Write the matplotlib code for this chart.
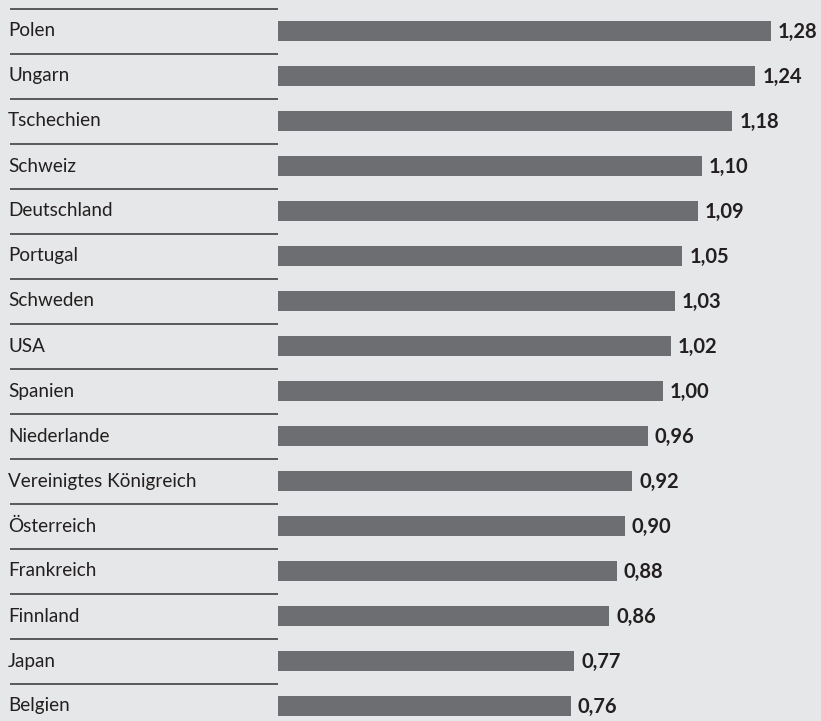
import matplotlib
matplotlib.use("Agg")
import matplotlib.pyplot as plt

countries = ["Polen", "Ungarn", "Tschechien", "Schweiz", "Deutschland", "Portugal",
             "Schweden", "USA", "Spanien", "Niederlande", "Vereinigtes Königreich",
             "Österreich", "Frankreich", "Finnland", "Japan", "Belgien"]
values = [1.28, 1.24, 1.18, 1.10, 1.09, 1.05, 1.03, 1.02, 1.00, 0.96, 0.92,
          0.90, 0.88, 0.86, 0.77, 0.76]

BG = "#e6e7e8"
BAR = "#6d6e71"
TXT = "#231f20"

plt.rcParams["font.family"] = ["Lato", "DejaVu Sans"]

fig = plt.figure(figsize=(8.21, 7.21), dpi=100, facecolor=BG)
ax = fig.add_axes([0, 0, 1, 1], facecolor=BG)

# 385 px per unit, zero at x=278 px; rows 45 px apart, first centred at y=31 px
px = 385.0
ax.set_xlim(-278 / px, (821 - 278) / px)
ax.set_ylim((721 - 31) / 45, -31 / 45)

ypos = list(range(len(countries)))
ax.barh(ypos, values, height=0.44, color=BAR, zorder=2)

# separator lines left of the bars
ax.hlines([y - 0.5 for y in ypos], -268 / px, 0, color="#58595b", linewidth=1.4)

for y, name, v in zip(ypos, countries, values):
    ax.text(-270 / px, y, name, ha="left", va="center", fontsize=13.6, color=TXT)
    ax.text(v + 7 / px, y + 0.03, f"{v:.2f}".replace(".", ","), ha="left", va="center",
            fontsize=14.5, fontweight="bold", color=TXT)

ax.axis("off")
fig.savefig("out.png", dpi=100, facecolor=BG)
